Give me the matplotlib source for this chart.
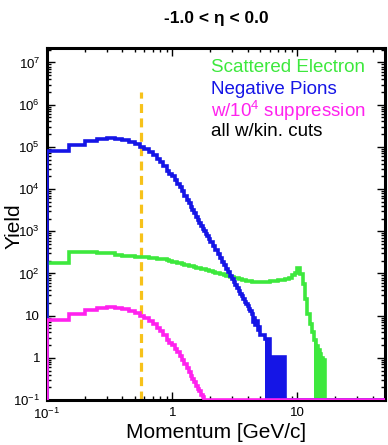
import numpy as np
import matplotlib
matplotlib.use("Agg")
import matplotlib.pyplot as plt
from matplotlib.ticker import LogLocator, FuncFormatter, NullFormatter

plt.rcParams["font.family"] = ["Liberation Sans", "DejaVu Sans"]
plt.rcParams["mathtext.fontset"] = "custom"
plt.rcParams["mathtext.rm"] = "Liberation Sans"
plt.rcParams["mathtext.it"] = "Liberation Sans:italic"
plt.rcParams["mathtext.bf"] = "Liberation Sans:bold"

# momentum bin edges [GeV/c]: 0.05 wide to 2, 0.1 wide to 5, 0.5 wide to 17
edges = np.round(np.concatenate([np.arange(0.10, 2.0, 0.05), np.arange(2.0, 5.0, 0.1),
                                 np.arange(5.0, 17.01, 0.5), [20.0, 50.0]]), 3)

# --- yields per bin ---
# Scattered electron
elec_lo  = [175, 330, 330, 300, 300, 280, 265, 260, 250, 240, 245, 230, 235, 220, 215, 220, 205, 200]   # 0.1-1
elec_mid = [188, 182, 178, 172, 168, 162, 158, 152, 150, 146, 142, 138, 137, 133, 130, 127, 126, 122, 120, 116]  # 1-2
elec_hi  = [112, 108, 104, 100, 98, 95, 92, 89, 87, 84, 82, 79, 78, 76, 74, 72, 71, 70, 69, 67,
            67, 65, 65, 63, 62, 63, 64, 62, 61, 63]   # 2-5
elec_tail = [63, 64, 66, 67, 69, 71, 74, 80, 90, 105, 135, 95, 55, 25, 11, 6.5, 4.0, 2.6, 1.9, 1.5,
             1.2, 1.0, 0.9, 0, 0, 0]   # 5-50

# Negative pions
pion_lo  = [8.0e4, 1.12e5, 1.35e5, 1.5e5, 1.58e5, 1.55e5, 1.45e5, 1.3e5, 1.15e5, 9.8e4,
            8.7e4, 7.4e4, 6.3e4, 5.2e4, 4.4e4, 3.5e4, 2.7e4, 2.3e4]
pion_mid = [2.0e4, 1.65e4, 1.35e4, 1.1e4, 8.8e3, 7.0e3, 5.6e3, 4.6e3, 3.8e3, 3.2e3,
            2.65e3, 2.2e3, 1.85e3, 1.6e3, 1.35e3, 1.16e3, 1.0e3, 880, 770, 670]
pion_hi  = [560, 450, 360, 290, 230, 185, 155, 128, 108, 88, 75, 63, 53, 45, 38, 33, 29, 25, 21, 19,
            16.5, 14.5, 13, 11, 7, 9, 6, 7.5, 4.5, 5.5]
pion_tail = [3.5, 2.8, 1.05, 1.05, 1.05, 1.05] + [0] * 20

# Negative pions with 10^4 suppression
supp_lo  = [8.0, 11.2, 13.5, 15.0, 15.8, 15.5, 14.5, 13.0, 11.5, 9.8,
            8.7, 7.4, 6.3, 5.2, 4.4, 3.5, 2.7, 2.3]
supp_mid = [2.0, 1.65, 1.35, 1.1, 0.88, 0.70, 0.56, 0.46, 0.38, 0.32,
            0.265, 0.22, 0.185, 0.16, 0.135, 0.116, 0.10, 0.088, 0.077, 0.067]
supp_hi  = [0] * 30
supp_tail = [0] * 26

electron = np.array(elec_lo + elec_mid + elec_hi + elec_tail, float)
pions = np.array(pion_lo + pion_mid + pion_hi + pion_tail, float)
pions_supp = np.array(supp_lo + supp_mid + supp_hi + supp_tail, float)
assert len(electron) == len(pions) == len(pions_supp) == len(edges) - 1

# low-statistics tails (fine bins alternate with empty ones -> look filled)
pion_fill_range = (5.5, 8.0)
elec_fill_range = (13.5, 16.5)

p_cut = 0.56
YMIN, YMAX = 0.1, 2.2e7
XMIN, XMAX = 0.1, 50.0

GREEN, BLUE, MAGENTA, ORANGE = "#3de83d", "#1515e6", "#ff22ee", "#f7c21a"

fig = plt.figure(figsize=(3.88, 4.45), dpi=100)
ax = fig.add_axes([47/388, 45/445, 338/388, 352/445])
ax.set_xscale("log"); ax.set_yscale("log")
ax.set_xlim(XMIN, XMAX); ax.set_ylim(YMIN, YMAX)

def draw(vals, color, fill_range=None):
    v = np.maximum(vals, YMIN)
    ax.stairs(v, edges, baseline=YMIN, color=color, lw=2.6, zorder=3)
    if fill_range:
        i0 = np.searchsorted(edges, fill_range[0]); i1 = np.searchsorted(edges, fill_range[1])
        ax.stairs(v[i0:i1], edges[i0:i1+1], baseline=YMIN, fill=True, color=color, zorder=3)

draw(electron, GREEN, elec_fill_range)
draw(pions, BLUE, pion_fill_range)
draw(pions_supp, MAGENTA)

ax.plot([p_cut, p_cut], [YMIN, 2.0e6], color=ORANGE, lw=2.3, ls=(0, (2.8, 1.7)), zorder=2)

# ROOT-like frame and ticks
for s in ax.spines.values(): s.set_linewidth(2.2)
ax.tick_params(which="both", direction="in", top=True, right=True, width=1.0, labelsize=9.5, pad=5)
ax.tick_params(which="major", length=6)
ax.tick_params(which="minor", length=3)
ax.xaxis.set_major_locator(LogLocator(base=10, numticks=20))
ax.yaxis.set_major_locator(LogLocator(base=10, numticks=20))
ax.xaxis.set_minor_locator(LogLocator(base=10, subs=np.arange(2, 10), numticks=100))
ax.yaxis.set_minor_locator(LogLocator(base=10, subs=np.arange(2, 10), numticks=100))
ax.xaxis.set_minor_formatter(NullFormatter()); ax.yaxis.set_minor_formatter(NullFormatter())
def fmt(v, pos):
    e = int(round(np.log10(v)))
    if e == 0: return "1"
    if e == 1: return "10"
    return r"$\mathregular{10^{%d}}$" % e
ax.xaxis.set_major_formatter(FuncFormatter(fmt))
ax.yaxis.set_major_formatter(FuncFormatter(fmt))

# legend as coloured text
tx = (211-47)/338
for yy, txt, c in [(68, "Scattered Electron", GREEN), (89, "Negative Pions", BLUE),
                   (111, r"w/$\mathregular{10^{4}}$ suppression", MAGENTA), (132, "all w/kin. cuts", "black")]:
    ax.text(tx, (400-yy)/352, txt, color=c, fontsize=13.5, transform=ax.transAxes, ha="left", va="center")

fig.text(216/388, 1-18/445, "-1.0 < η < 0.0", ha="center", va="center", fontsize=12.5, fontweight="bold")
fig.text(216/388, 1-432/445, "Momentum [GeV/c]", ha="center", va="center", fontsize=15)
fig.text(14/388, 1-226/445, "Yield", ha="center", va="center", rotation=90, fontsize=15)

fig.savefig("out.png", dpi=100)
